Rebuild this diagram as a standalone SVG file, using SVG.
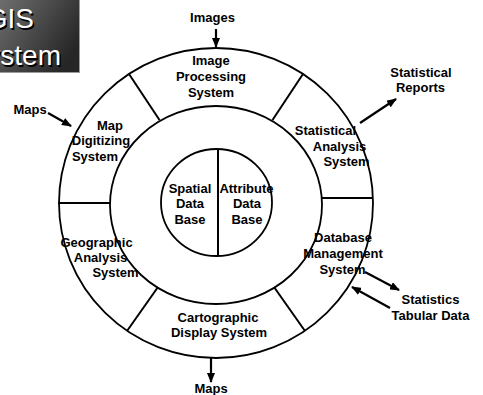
<svg xmlns="http://www.w3.org/2000/svg" width="483" height="395" viewBox="0 0 483 395">
<defs>
<linearGradient id="boxg" x1="0" y1="0" x2="1" y2="0.6">
<stop offset="0" stop-color="#6e6e6e"/>
<stop offset="1" stop-color="#262626"/>
</linearGradient>
<marker id="ah" markerUnits="userSpaceOnUse" markerWidth="10" markerHeight="8" refX="9" refY="4" orient="auto">
<path d="M0,0 L10,4 L0,8 z" fill="#000"/>
</marker>
</defs>
<style>
.lbl{font-family:"Liberation Sans",Arial,sans-serif;font-weight:bold;font-size:13px;fill:#000;text-anchor:middle}
.ring{fill:none;stroke:#000;stroke-width:1.8}
.div{stroke:#000;stroke-width:2}
.arr{stroke:#000;stroke-width:2.2;fill:none;marker-end:url(#ah)}
.tt{font-family:"Liberation Sans",Arial,sans-serif;font-size:28px;text-anchor:end}
</style>
<rect width="483" height="395" fill="#fff"/>

<g id="title">
<rect x="0" y="0" width="80" height="73" fill="#9a9a9a"/>
<rect x="0" y="0" width="79" height="72" fill="url(#boxg)"/>
<text class="tt" x="35.5" y="29.5" fill="#000">GIS</text>
<text class="tt" x="34" y="28" fill="#fff">GIS</text>
<text class="tt" x="62.5" y="66.5" fill="#000">System</text>
<text class="tt" x="61" y="65" fill="#fff">System</text>
</g>

<g id="wheel">
<ellipse class="ring" cx="216" cy="203" rx="157" ry="155"/>
<ellipse class="ring" cx="216" cy="205" rx="106" ry="99"/>
<line class="div" x1="129" y1="74" x2="159.5" y2="120"/>
<line class="div" x1="303" y1="74" x2="272.5" y2="120"/>
<line class="div" x1="322" y1="198" x2="373" y2="198"/>
<line class="div" x1="58" y1="203" x2="110" y2="203"/>
<line class="div" x1="158" y1="287" x2="127" y2="331"/>
<line class="div" x1="274" y1="287" x2="305" y2="331"/>
</g>

<g id="core">
<ellipse class="ring" cx="216.5" cy="202.5" rx="55.5" ry="53.5"/>
<line class="div" x1="218" y1="149" x2="218" y2="256"/>
</g>

<g id="spatial-db">
<text class="lbl" x="190" y="192.5">Spatial</text>
<text class="lbl" x="190" y="208">Data</text>
<text class="lbl" x="190" y="223.5">Base</text>
</g>
<g id="attribute-db">
<text class="lbl" x="246.5" y="192.5">Attribute</text>
<text class="lbl" x="247" y="208">Data</text>
<text class="lbl" x="247" y="223.5">Base</text>
</g>

<g id="image-processing">
<text class="lbl" x="211" y="65">Image</text>
<text class="lbl" x="211" y="81">Processing</text>
<text class="lbl" x="211" y="97">System</text>
</g>
<g id="statistical-analysis">
<text class="lbl" x="325.5" y="135">Statistical</text>
<text class="lbl" x="339.5" y="151">Analysis</text>
<text class="lbl" x="346.5" y="166">System</text>
</g>
<g id="database-management">
<text class="lbl" x="343" y="242">Database</text>
<text class="lbl" x="343" y="258">Management</text>
<text class="lbl" x="342.5" y="274">System</text>
</g>
<g id="cartographic-display">
<text class="lbl" x="218" y="322">Cartographic</text>
<text class="lbl" x="219" y="337">Display System</text>
</g>
<g id="geographic-analysis">
<text class="lbl" x="96.5" y="247">Geographic</text>
<text class="lbl" x="100.5" y="262">Analysis</text>
<text class="lbl" x="115.5" y="277">System</text>
</g>
<g id="map-digitizing">
<text class="lbl" x="110" y="130">Map</text>
<text class="lbl" x="101" y="145">Digitizing</text>
<text class="lbl" x="95" y="161">System</text>
</g>

<g id="images-in"><text class="lbl" x="212.5" y="22">Images</text></g>
<g id="maps-in"><text class="lbl" x="30" y="114">Maps</text></g>
<g id="stat-reports">
<text class="lbl" x="421" y="77">Statistical</text>
<text class="lbl" x="420.5" y="92">Reports</text>
</g>
<g id="stats-tabular">
<text class="lbl" x="430.5" y="304">Statistics</text>
<text class="lbl" x="430.5" y="320">Tabular Data</text>
</g>
<g id="maps-out"><text class="lbl" x="211" y="393">Maps</text></g>

<g id="connectors">
<line class="arr" x1="216" y1="29" x2="216" y2="47"/>
<line class="arr" x1="48" y1="113" x2="71" y2="126"/>
<line class="arr" x1="360" y1="123" x2="396" y2="99"/>
<line class="arr" x1="365" y1="272" x2="399" y2="290"/>
<line class="arr" x1="390" y1="308" x2="352" y2="287"/>
<line class="arr" x1="211" y1="358" x2="211" y2="382"/>
</g>
</svg>
